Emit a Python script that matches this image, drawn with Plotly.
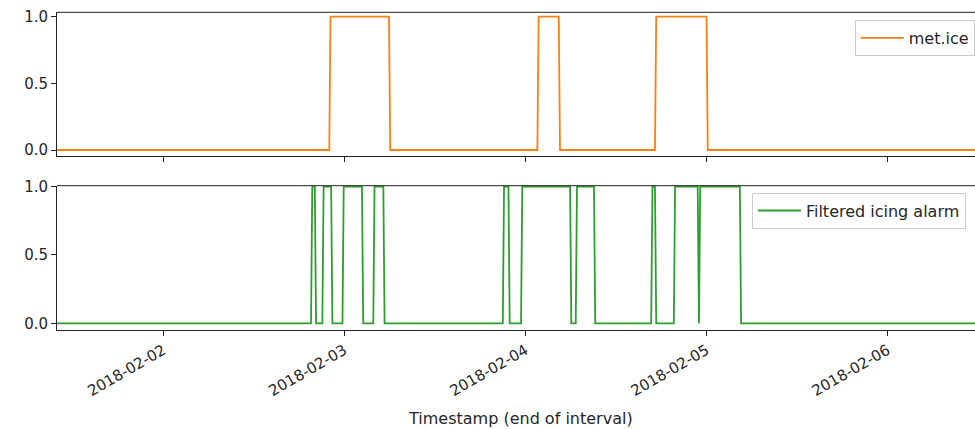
import plotly.graph_objects as go
from plotly.subplots import make_subplots

# ---- data ----
met_ice_times = [
    "2018-02-01 09:50", "2018-02-02 22:00", "2018-02-02 22:10",
    "2018-02-03 05:55", "2018-02-03 06:05",
    "2018-02-04 01:35", "2018-02-04 01:45",
    "2018-02-04 04:25", "2018-02-04 04:35",
    "2018-02-04 17:10", "2018-02-04 17:20",
    "2018-02-05 00:00", "2018-02-05 00:10",
    "2018-02-06 13:30",
]
met_ice_values = [0, 0, 1, 1, 0, 0, 1, 1, 0, 0, 1, 1, 0, 0]

alarm_times = [
    "2018-02-01 09:50",
    "2018-02-02 19:35", "2018-02-02 19:45", "2018-02-02 20:05", "2018-02-02 20:15",
    "2018-02-02 21:05", "2018-02-02 21:15", "2018-02-02 22:15", "2018-02-02 22:25",
    "2018-02-02 23:45", "2018-02-02 23:55", "2018-02-03 02:20", "2018-02-03 02:30",
    "2018-02-03 03:50", "2018-02-03 04:00", "2018-02-03 05:10", "2018-02-03 05:20",
    "2018-02-03 21:00", "2018-02-03 21:10", "2018-02-03 21:45", "2018-02-03 21:55",
    "2018-02-03 23:25", "2018-02-03 23:35", "2018-02-04 05:55", "2018-02-04 06:05",
    "2018-02-04 06:40", "2018-02-04 06:50", "2018-02-04 09:05", "2018-02-04 09:15",
    "2018-02-04 16:40", "2018-02-04 16:50", "2018-02-04 17:10", "2018-02-04 17:20",
    "2018-02-04 19:40", "2018-02-04 19:50", "2018-02-04 22:50", "2018-02-04 23:00",
    "2018-02-04 23:10", "2018-02-05 04:25", "2018-02-05 04:35",
    "2018-02-06 13:30",
]
alarm_values = [
    0,
    0, 1, 1, 0,
    0, 1, 1, 0,
    0, 1, 1, 0,
    0, 1, 1, 0,
    0, 1, 1, 0,
    0, 1, 1, 0,
    0, 1, 1, 0,
    0, 1, 1, 0,
    0, 1, 1, 0,
    1, 1, 0,
    0,
]

x_tick_vals = ["2018-02-02", "2018-02-03", "2018-02-04", "2018-02-05", "2018-02-06"]
x_tick_text = ["2018-02-02", "2018-02-03", "2018-02-04", "2018-02-05", "2018-02-06"]
y_tick_vals = [0, 0.5, 1.0]
y_tick_text = ["0.0", "0.5", "1.0"]
x_range = ["2018-02-01 09:55", "2018-02-06 11:35"]

FONT = "DejaVu Sans"
TXT = "#262626"
AX = "#222222"

fig = make_subplots(rows=2, cols=1, shared_xaxes=True)

fig.add_trace(go.Scatter(x=met_ice_times, y=met_ice_values, mode="lines",
                         name="met.ice", line=dict(color="#ff7f0e", width=1.8),
                         legend="legend"), row=1, col=1)
fig.add_trace(go.Scatter(x=alarm_times, y=alarm_values, mode="lines",
                         name="Filtered icing alarm", line=dict(color="#2ca02c", width=1.8),
                         legend="legend2"), row=2, col=1)

xcommon = dict(range=x_range, showgrid=False, zeroline=False, showline=True,
               linecolor=AX, linewidth=1, ticks="outside", ticklen=5, tickwidth=1,
               tickcolor=AX, tickvals=x_tick_vals, ticktext=x_tick_text)
fig.update_xaxes(**xcommon)
fig.update_xaxes(showticklabels=False, row=1, col=1)
fig.update_xaxes(showticklabels=True, tickangle=-30,
                 tickfont=dict(family=FONT, size=15, color=TXT), row=2, col=1)

ycommon = dict(showgrid=False, zeroline=False, showline=True, linecolor=AX,
               linewidth=1, ticks="outside", ticklen=5, tickwidth=1, tickcolor=AX,
               tickvals=y_tick_vals, ticktext=y_tick_text,
               tickfont=dict(family=FONT, size=15, color=TXT))
fig.update_yaxes(**ycommon)
fig.update_yaxes(range=[-0.043, 1.033], row=1, col=1)
fig.update_yaxes(range=[-0.049, 1.007], row=2, col=1)

legend_style = dict(xanchor="left", yanchor="top", itemwidth=43,
                    bgcolor="rgba(255,255,255,0.8)", bordercolor="#cccccc", borderwidth=1,
                    font=dict(family=FONT, size=16, color=TXT))

fig.update_layout(
    width=975, height=429,
    margin=dict(l=57, r=0, t=12, b=99, autoexpand=False),
    paper_bgcolor="white", plot_bgcolor="white",
    font=dict(family=FONT, color=TXT),
    xaxis=dict(domain=[0, 1]),
    yaxis=dict(domain=[0.548, 0.999]),
    xaxis2=dict(domain=[0, 1]),
    yaxis2=dict(domain=[0.0, 0.4538]),
    legend=dict(x=0.869, y=0.975, entrywidth=100, entrywidthmode="pixels", **legend_style),
    legend2=dict(x=0.757, y=0.432, entrywidth=200, entrywidthmode="pixels", **legend_style),
    showlegend=True,
)

# top spines
fig.add_shape(type="line", xref="x domain", yref="y domain", x0=0, x1=1, y0=1, y1=1,
              line=dict(color=AX, width=1))
fig.add_shape(type="line", xref="x2 domain", yref="y2 domain", x0=0, x1=1, y0=1, y1=1,
              line=dict(color=AX, width=1))

fig.add_annotation(text="Timestamp (end of interval)", xref="paper", yref="paper",
                   x=0.505, y=-0.277, xanchor="center", yanchor="middle",
                   showarrow=False, font=dict(family=FONT, size=16, color=TXT))

fig.write_html("out.html")
